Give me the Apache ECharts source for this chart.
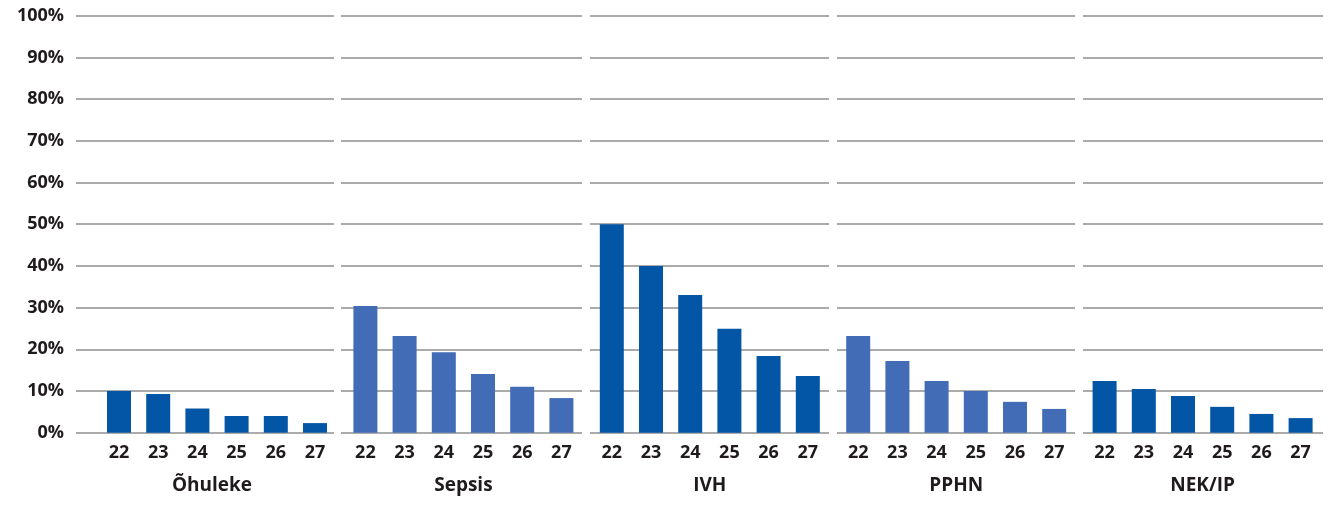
<!DOCTYPE html>
<html>
<head>
<meta charset="utf-8">
<script src="https://cdn.jsdelivr.net/npm/echarts@6/dist/echarts.min.js"></script>
<style>
  html, body { margin: 0; padding: 0; background: #ffffff; }
  #chart { width: 1332px; height: 510px; }
</style>
</head>
<body>
<div id="chart"></div>
<script>
// Gestational weeks shown under every group
const weeks = ['22', '23', '24', '25', '26', '27'];

// Complication groups
const groups = ['Õhuleke', 'Sepsis', 'IVH', 'PPHN', 'NEK/IP'];

// Share of infants (%) per gestational week, one array per complication
const ohuleke = [10.0, 9.3, 5.8, 4.0, 4.0, 2.3];
const sepsis  = [30.4, 23.2, 19.3, 14.1, 11.0, 8.3];
const ivh     = [50.0, 40.0, 33.0, 24.9, 18.4, 13.6];
const pphn    = [23.2, 17.2, 12.4, 10.0, 7.4, 5.7];
const nekip   = [12.4, 10.5, 8.8, 6.2, 4.5, 3.5];

// Y axis tick values (percent)
const yTicks = [0, 10, 20, 30, 40, 50, 60, 70, 80, 90, 100];

const seriesValues = [ohuleke, sepsis, ivh, pphn, nekip];
const DARK = '#0355a5';
const LIGHT = '#426cb5';
const TEXT = '#1f1b1c';
const FONT = '"Open Sans", "Noto Sans", sans-serif';

// Layout: gridline panels and bar panels per group
const TOP = 15.7, BOTTOM = 77.3;
const lineSpans = [[76, 334], [341, 582], [590, 829], [837, 1075], [1083, 1323]];
const BAR_LEFT0 = 99.4, BAR_PITCH = 246.4, BAR_WIDTH_PANEL = 235.2;
const nameShift = [-5, 0, 0, 0, 0];

const grids = [], xAxes = [], yAxes = [], series = [];

// Gridline panels (indices 0..4)
lineSpans.forEach((s, i) => {
  grids.push({ left: s[0], width: s[1] - s[0], top: TOP, bottom: BOTTOM });
  xAxes.push({ gridIndex: i, type: 'category', data: weeks, show: false });
  yAxes.push({
    gridIndex: i, type: 'value', min: yTicks[0], max: yTicks[yTicks.length - 1],
    interval: yTicks[1] - yTicks[0],
    axisLine: { show: false }, axisTick: { show: false },
    axisLabel: i === 0 ? {
      show: true, formatter: '{value}%', margin: 12,
      fontFamily: FONT, fontWeight: 'bold', fontSize: 18, color: TEXT
    } : { show: false },
    splitLine: { show: true, lineStyle: { color: '#ababab', width: 2 } }
  });
});

// Bar panels (indices 5..9)
groups.forEach((g, i) => {
  const gi = 5 + i;
  grids.push({ left: BAR_LEFT0 + i * BAR_PITCH, width: BAR_WIDTH_PANEL, top: TOP, bottom: BOTTOM });
  xAxes.push({
    gridIndex: gi, type: 'category', data: weeks,
    axisLine: { show: false }, axisTick: { show: false },
    axisLabel: { margin: 11, fontFamily: FONT, fontWeight: 'bold', fontSize: 18, color: TEXT },
    name: g, nameLocation: 'middle', nameGap: 53,
    nameTextStyle: {
      fontFamily: FONT, fontWeight: 'bold', fontSize: 19, color: TEXT,
      verticalAlign: 'middle', padding: [0, 0, 0, nameShift[i] * 2]
    }
  });
  yAxes.push({
    gridIndex: gi, type: 'value', min: yTicks[0], max: yTicks[yTicks.length - 1],
    interval: yTicks[1] - yTicks[0], show: false, splitLine: { show: false }
  });
  series.push({
    type: 'bar', xAxisIndex: gi, yAxisIndex: gi,
    data: seriesValues[i], barWidth: 24,
    itemStyle: { color: i % 2 === 0 ? DARK : LIGHT },
    silent: true
  });
});

const chart = echarts.init(document.getElementById('chart'), null, { renderer: 'canvas' });
chart.setOption({
  animation: false,
  backgroundColor: '#ffffff',
  grid: grids,
  xAxis: xAxes,
  yAxis: yAxes,
  series: series
});
</script>
</body>
</html>
